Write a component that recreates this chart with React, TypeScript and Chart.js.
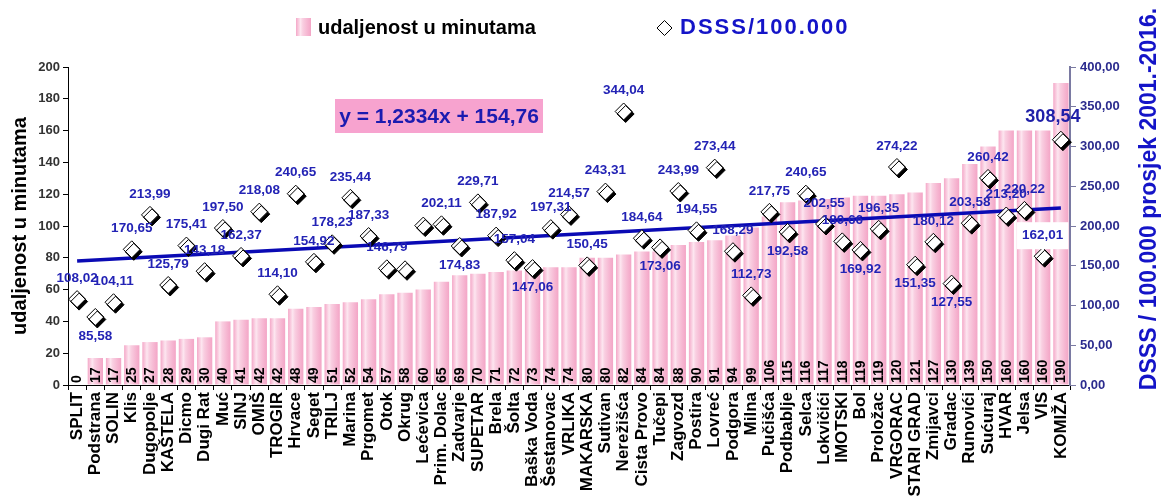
import React, { useEffect, useRef } from 'react';
import { Chart, registerables } from 'chart.js';

Chart.register(...registerables);

const FONT = "'Liberation Sans', Arial, Helvetica, sans-serif";

const categories = [
  'SPLIT', 'Podstrana', 'SOLIN', 'Klis', 'Dugopolje', 'KAŠTELA', 'Dicmo', 'Dugi Rat', 'Muć', 'SINJ',
  'OMIŠ', 'TROGIR', 'Hrvace', 'Seget', 'TRILJ', 'Marina', 'Prgomet', 'Otok', 'Okrug', 'Lećevica',
  'Prim. Dolac', 'Zadvarje', 'SUPETAR', 'Brela', 'Šolta', 'Baška Voda', 'Šestanovac', 'VRLIKA', 'MAKARSKA', 'Sutivan',
  'Nerežišća', 'Cista Provo', 'Tučepi', 'Zagvozd', 'Postira', 'Lovreć', 'Podgora', 'Milna', 'Pučišća', 'Podbablje',
  'Selca', 'Lokvičići', 'IMOTSKI', 'Bol', 'Proložac', 'VRGORAC', 'STARI GRAD', 'Zmijavci', 'Gradac', 'Runovići',
  'Sućuraj', 'HVAR', 'Jelsa', 'VIS', 'KOMIŽA',
];

const minutes = [
  0, 17, 17, 25, 27, 28, 29, 30, 40, 41,
  42, 42, 48, 49, 51, 52, 54, 57, 58, 60,
  65, 69, 70, 71, 72, 73, 74, 74, 80, 80,
  82, 84, 84, 88, 90, 91, 94, 99, 106, 115,
  116, 117, 118, 119, 119, 120, 121, 127, 130, 139,
  150, 160, 160, 160, 190,
];

const dsss = [
  108.02, 85.58, 104.11, 170.65, 213.99, 125.79, 175.41, 143.18, 197.5, 162.37,
  218.08, 114.1, 240.65, 154.92, 178.23, 235.44, 187.33, 146.79, 145.5, 200.5,
  202.11, 174.83, 229.71, 187.92, 157.04, 147.06, 197.31, 214.57, 150.45, 243.31,
  344.04, 184.64, 173.06, 243.99, 194.55, 273.44, 168.29, 112.73, 217.75, 192.58,
  240.65, 202.55, 180.66, 169.92, 196.35, 274.22, 151.35, 180.12, 127.55, 203.58,
  260.42, 213.2, 220.22, 162.01, 308.54,
];

// Linear trend (y = 1,2334x + 154,76) end values, read at first and last category
const trendStart = 155.99;
const trendEnd = 222.6;

const leftTicks = { min: 0, max: 200, step: 20 };
const rightTicks = { min: 0, max: 400, step: 50 };

const legendBarLabel = 'udaljenost u minutama';
const legendPointLabel = 'DSSS/100.000';
const leftTitle = 'udaljenost u minutama';
const rightTitle = 'DSSS / 100.000 prosjek 2001.-2016.';
const equationText = 'y = 1,2334x + 154,76';

// label styling configuration (not data)
const labelsBelow = new Set([1, 21, 25, 32, 39, 43, 46, 48]);
const labelsHidden = new Set([18, 19]);
const labelBigIndex = 54;
const labelBoxedIndex = 53;

const fmt = (v: number) => v.toFixed(2).replace('.', ',');

const PINK = '#f7bcd6';

function barGradient(ctx: CanvasRenderingContext2D, x0: number, x1: number) {
  if (!isFinite(x0) || !isFinite(x1) || x1 <= x0) return PINK;
  const g = ctx.createLinearGradient(x0, 0, x1, 0);
  g.addColorStop(0, '#f4a8c8');
  g.addColorStop(0.3, '#fde6f0');
  g.addColorStop(0.45, '#f9cfe1');
  g.addColorStop(0.75, '#f6b7d2');
  g.addColorStop(1, '#f3a5c6');
  return g;
}

const BAR_PCT = 0.84;

const decorPlugin = {
  id: 'decor',
  beforeDatasetDraw(chart: any, args: any) {
    if (args.index === 1) {
      const c = chart.ctx;
      c.save();
      c.shadowColor = '#000';
      c.shadowOffsetX = 2;
      c.shadowOffsetY = 2.5;
      c.shadowBlur = 0;
    }
  },
  afterDatasetDraw(chart: any, args: any) {
    if (args.index === 1) chart.ctx.restore();
  },
  afterDatasetsDraw(chart: any) {
    const c: CanvasRenderingContext2D = chart.ctx;
    const area = chart.chartArea;
    // values inside bars
    const meta0 = chart.getDatasetMeta(0);
    c.save();
    c.font = `bold 14px ${FONT}`;
    c.fillStyle = '#000';
    c.textAlign = 'left';
    c.textBaseline = 'middle';
    meta0.data.forEach((el: any, i: number) => {
      c.save();
      c.translate(el.x + 0.5, area.bottom - 2);
      c.rotate(-Math.PI / 2);
      c.fillText(String(minutes[i]), 0, 0);
      c.restore();
    });
    c.restore();

    // equation box
    c.save();
    c.fillStyle = '#f7a3cf';
    c.fillRect(335, 99, 208, 34);
    c.font = `bold 21px ${FONT}`;
    c.fillStyle = '#1b1bb0';
    c.textAlign = 'center';
    c.textBaseline = 'middle';
    c.fillText(equationText, 439, 117);
    c.restore();

    // DSSS labels
    const meta1 = chart.getDatasetMeta(1);
    c.save();
    c.textAlign = 'center';
    c.textBaseline = 'middle';
    meta1.data.forEach((el: any, i: number) => {
      if (labelsHidden.has(i)) return;
      const text = fmt(dsss[i]);
      const big = i === labelBigIndex;
      c.font = `bold ${big ? 18 : 13.5}px ${FONT}`;
      const dy = labelsBelow.has(i) ? 19 : big ? -23 : -21;
      const x = el.x - (big ? 8 : 0);
      const y = el.y + dy;
      if (i === labelBoxedIndex) {
        const w = c.measureText(text).width;
        c.fillStyle = '#fff';
        c.fillRect(x - w / 2 - 5, y - 13, w + 10, 27);
      }
      c.fillStyle = big ? '#1f1fa8' : '#2323b5';
      c.fillText(text, x, y);
    });
    c.restore();
  },
  afterDraw(chart: any) {
    const c: CanvasRenderingContext2D = chart.ctx;
    // legend
    c.save();
    c.fillStyle = barGradient(c, 296, 311);
    c.fillRect(296, 18, 15, 18);
    c.font = `bold 20px ${FONT}`;
    c.textBaseline = 'middle';
    c.textAlign = 'left';
    c.fillStyle = '#000';
    c.fillText(legendBarLabel, 318, 28);
    c.beginPath();
    c.moveTo(657, 28);
    c.lineTo(664.5, 20.5);
    c.lineTo(672, 28);
    c.lineTo(664.5, 35.5);
    c.closePath();
    c.fillStyle = '#fff';
    c.fill();
    c.strokeStyle = '#000';
    c.lineWidth = 1;
    c.stroke();
    c.fillStyle = '#1414c8';
    c.font = `bold 22px ${FONT}`;
    try { (c as any).letterSpacing = '2px'; } catch (e) { /* ignore */ }
    c.fillText(legendPointLabel, 680, 28);
    c.restore();

    // right axis title (reads bottom to top)
    c.save();
    c.font = `bold 23px ${FONT}`;
    c.fillStyle = '#1414c8';
    c.textAlign = 'center';
    c.textBaseline = 'middle';
    c.translate(1150, 199);
    c.rotate(-Math.PI / 2);
    c.fillText(rightTitle, 0, 0);
    c.restore();
  },
};

export default function App() {
  const ref = useRef<HTMLCanvasElement | null>(null);

  useEffect(() => {
    if (!ref.current) return;
    Chart.defaults.font.family = FONT;
    const trend = categories.map((_, i) =>
      i === 0 ? trendStart : i === categories.length - 1 ? trendEnd : null
    );
    const chart = new Chart(ref.current, {
      type: 'bar',
      data: {
        labels: categories,
        datasets: [
          {
            type: 'bar',
            label: legendBarLabel,
            data: minutes,
            yAxisID: 'y',
            order: 3,
            barPercentage: BAR_PCT,
            categoryPercentage: 1,
            backgroundColor: (ctx: any) => {
              const chartRef = ctx.chart;
              const xs = chartRef.scales?.x;
              if (!xs || typeof ctx.dataIndex !== 'number' || !xs.width) return PINK;
              const cx = xs.getPixelForValue(ctx.dataIndex);
              const hw = (xs.width / categories.length) * BAR_PCT / 2;
              return barGradient(chartRef.ctx, cx - hw, cx + hw);
            },
            borderWidth: 0,
          } as any,
          {
            type: 'line',
            label: legendPointLabel,
            data: dsss,
            yAxisID: 'y2',
            order: 1,
            showLine: false,
            pointStyle: 'rectRot',
            pointRadius: 8.5,
            pointBackgroundColor: '#fff',
            pointBorderColor: '#000',
            pointBorderWidth: 1,
          } as any,
          {
            type: 'line',
            label: 'trend',
            data: trend,
            yAxisID: 'y2',
            order: 2,
            spanGaps: true,
            borderColor: '#0a0ab4',
            borderWidth: 3.5,
            pointRadius: 0,
          } as any,
        ],
      },
      options: {
        animation: false,
        responsive: false,
        maintainAspectRatio: false,
        layout: { padding: { top: 67, left: 0, right: 0, bottom: 0 } },
        plugins: {
          legend: { display: false },
          tooltip: { enabled: false },
        },
        scales: {
          x: {
            type: 'category',
            offset: true,
            grid: { offset: true, drawOnChartArea: false, color: '#000', tickLength: 5 },
            border: { color: '#000', width: 1 },
            ticks: {
              autoSkip: false,
              maxRotation: 90,
              minRotation: 90,
              padding: 2,
              color: '#000',
              font: { size: 17, weight: 'bold', family: FONT },
            },
            afterFit: (s: any) => { s.height = 118; },
          },
          y: {
            position: 'left',
            min: leftTicks.min,
            max: leftTicks.max,
            ticks: { stepSize: leftTicks.step, color: '#333', padding: 3, font: { size: 13, weight: 'bold', family: FONT } },
            grid: { drawOnChartArea: false, color: '#000', tickLength: 5 },
            border: { color: '#000', width: 1 },
            title: {
              display: true,
              text: leftTitle,
              color: '#000',
              font: { size: 20, weight: 'bold', family: FONT },
              padding: { top: 8, bottom: 0 },
            },
            afterFit: (s: any) => { s.width = 68; },
          },
          y2: {
            position: 'right',
            min: rightTicks.min,
            max: rightTicks.max,
            ticks: {
              stepSize: rightTicks.step,
              color: '#2b2b8e',
              padding: 4,
              font: { size: 13, weight: 'bold', family: FONT },
              callback: (v: any) => fmt(Number(v)),
            },
            grid: { drawOnChartArea: false, color: '#7a7aa2', tickLength: 6 },
            border: { color: '#7a7aa2', width: 2 },
            afterFit: (s: any) => { s.width = 91; },
          },
        },
      } as any,
      plugins: [decorPlugin as any],
    });
    return () => chart.destroy();
  }, []);

  return (
    <div style={{ position: 'absolute', left: 0, top: 0, width: 1161, height: 503, background: '#fff' }}>
      <canvas ref={ref} width={1161} height={503} style={{ width: 1161, height: 503, display: 'block' }} />
    </div>
  );
}
